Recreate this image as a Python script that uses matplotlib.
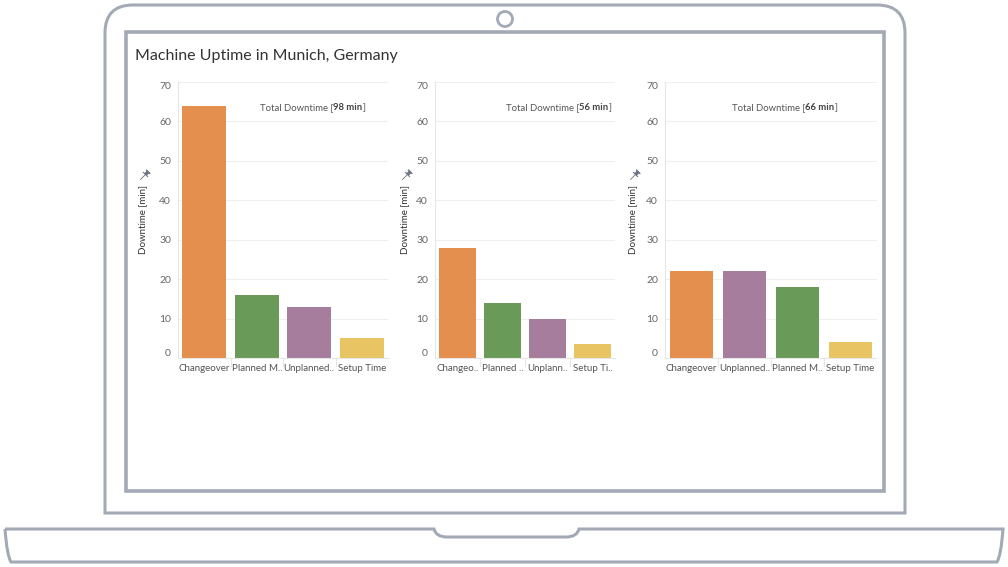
import numpy as np
import matplotlib
matplotlib.use("Agg")
import matplotlib.pyplot as plt
from matplotlib.path import Path
from matplotlib.patches import PathPatch, Circle, Rectangle

plt.rcParams['font.family'] = ['Lato', 'DejaVu Sans']

# data, one list per panel (categories in display order)
cats1 = ["Changeover", "Planned M..", "Unplanned..", "Setup Time"]
vals1 = [64, 16, 13, 5]
cols1 = ["orange", "green", "purple", "yellow"]

cats2 = ["Changeo..", "Planned ..", "Unplann..", "Setup Ti.."]
vals2 = [28, 14, 10, 3.5]
cols2 = ["orange", "green", "purple", "yellow"]

cats3 = ["Changeover", "Unplanned..", "Planned M..", "Setup Time"]
vals3 = [22, 22, 18, 4]
cols3 = ["orange", "purple", "green", "yellow"]

totals = [98, 56, 66]
yticks = [0, 10, 20, 30, 40, 50, 60, 70]

palette = {"orange": "#E48F4E", "green": "#6A9A58",
           "purple": "#A67D9D", "yellow": "#E8C462"}

W, H = 1008, 567
fig = plt.figure(figsize=(W / 100, H / 100), dpi=100)

# laptop frame drawn on a full-figure pixel axes
bg = fig.add_axes([0, 0, 1, 1])
bg.set_xlim(0, W)
bg.set_ylim(H, 0)
bg.axis('off')
edge = "#A3AAB6"

r = 28
verts = [(105, 513), (105, 5 + r), (105, 5), (105 + r, 5),
         (905 - r, 5), (905, 5), (905, 5 + r), (905, 513), (105, 513)]
codes = [Path.MOVETO, Path.LINETO, Path.CURVE3, Path.CURVE3,
         Path.LINETO, Path.CURVE3, Path.CURVE3, Path.LINETO, Path.CLOSEPOLY]
bg.add_patch(PathPatch(Path(verts, codes), fc='white', ec=edge, lw=2.2))
bg.add_patch(Rectangle((126, 32), 758, 459, fc='white', ec=edge, lw=2.6))
bg.add_patch(Circle((505, 19), 7.5, fc='white', ec=edge, lw=2.0))

verts = [(5, 529), (434, 529), (436, 537), (447, 537), (566, 537), (577, 537),
         (579, 529), (1003, 529), (1001, 556), (997, 562), (985, 562),
         (23, 562), (11, 562), (7, 556), (5, 529)]
codes = [Path.MOVETO, Path.LINETO, Path.CURVE3, Path.CURVE3, Path.LINETO,
         Path.CURVE3, Path.CURVE3, Path.LINETO, Path.CURVE3, Path.CURVE3,
         Path.LINETO, Path.CURVE3, Path.CURVE3, Path.CURVE3, Path.CURVE3]
bg.add_patch(PathPatch(Path(verts, codes), fc='white', ec=edge, lw=2.2))

bg.text(135, 56, "Machine Uptime in Munich, Germany", fontsize=11.5,
        color="#333333", va='center', ha='left')

# little pushpin marker, tilted
pin = np.array([(-0.07, -1.0), (0.07, -1.0), (0.07, 0.15), (0.6, 0.15),
                (0.6, 0.32), (0.28, 0.32), (0.28, 0.75), (0.48, 0.75),
                (0.48, 1.0), (-0.48, 1.0), (-0.48, 0.75), (-0.28, 0.75),
                (-0.28, 0.32), (-0.6, 0.32), (-0.6, 0.15), (-0.07, 0.15),
                (-0.07, -1.0)])
a = np.deg2rad(-45)
rot = np.array([[np.cos(a), -np.sin(a)], [np.sin(a), np.cos(a)]])
pin_marker = Path(pin @ rot.T)

panels = [
    (cats1, vals1, cols1, 178, 388, 0.39, 143),
    (cats2, vals2, cols2, 435, 615, 0.394, 405),
    (cats3, vals3, cols3, 665, 877, 0.316, 633),
]
y_top, y_bot = 82, 358

for i, (cats, vals, cols, x0, x1, tx, lx) in enumerate(panels):
    ax = fig.add_axes([x0 / W, 1 - y_bot / H, (x1 - x0) / W, (y_bot - y_top) / H])
    x = np.arange(len(cats))
    ax.bar(x, vals, width=0.83, color=[palette[c] for c in cols], zorder=2)
    ax.set_xlim(-0.5, len(cats) - 0.5)
    ax.set_ylim(0, 70)
    ax.set_yticks(yticks)
    ax.set_xticks(x)
    ax.set_xticklabels(cats, fontsize=7.0, color="#555555")
    ax.tick_params(axis='x', length=0, pad=4)
    ax.tick_params(axis='y', length=0, pad=5, labelsize=7.5, labelcolor="#666666")
    labs = ax.get_yticklabels()
    labs[0].set_va('bottom')
    labs[-1].set_va('top')
    ax.grid(axis='y', color="#EFEFEF", lw=0.8, zorder=0)
    for s in ['top', 'right']:
        ax.spines[s].set_visible(False)
    for s in ['left', 'bottom']:
        ax.spines[s].set_color("#E6E6E6")
        ax.spines[s].set_linewidth(0.8)
    # separators between categories below the baseline
    for b in x[:-1] + 0.5:
        ax.plot([b, b], [0, -2], color="#E6E6E6", lw=0.8, clip_on=False)

    # axis title with pin
    bg.text(lx, 220, "Downtime [min]", rotation=90, fontsize=7.0,
            color="#333333", ha='center', va='center')
    bg.plot([lx + 1], [175], marker=pin_marker, markersize=9, color="#6B7280",
            markeredgewidth=0)

    t1 = ax.text(tx * len(cats) - 0.5, 63.5, "Total Downtime [",
                 fontsize=6.8, color="#555555", ha='left', va='center')
    t2 = ax.annotate(f"{totals[i]} min", xy=(1, 0), xycoords=t1, va='bottom',
                     ha='left', fontsize=6.8, color="#444444", fontweight='bold')
    ax.annotate("]", xy=(1, 0), xycoords=t2, va='bottom', ha='left',
                fontsize=6.8, color="#555555")

fig.savefig("out.png", dpi=100)
